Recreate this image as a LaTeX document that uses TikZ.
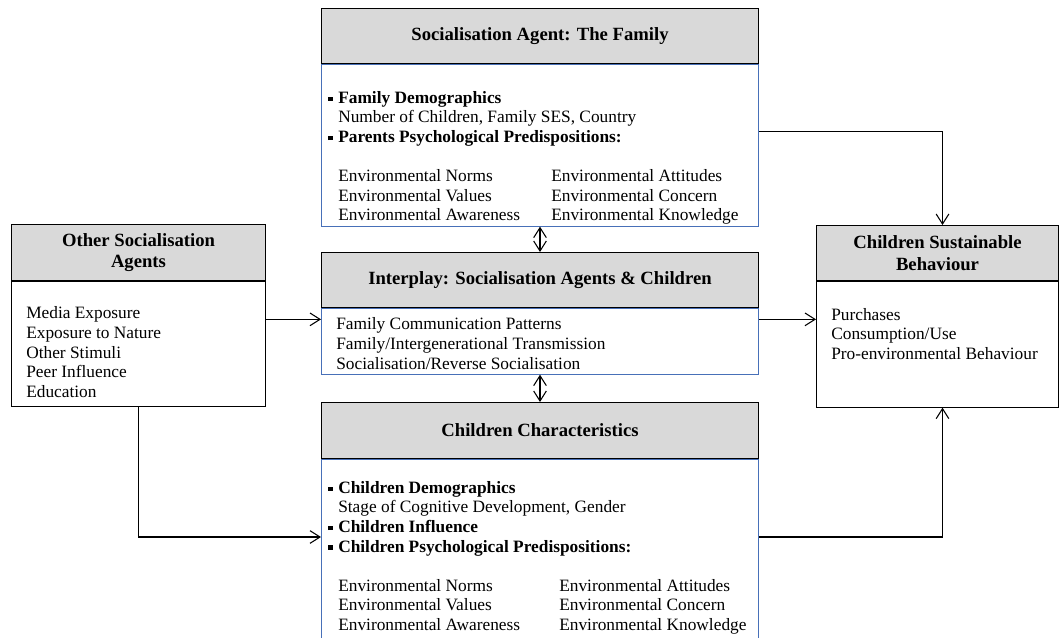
\documentclass[tikz,border=0pt]{standalone}
\usepackage{fontspec}
\setmainfont{Liberation Serif}
\usepackage{xcolor}
\usepackage{tikz}
\usetikzlibrary{positioning,calc,arrows.meta}
\definecolor{bodyBlue}{RGB}{72,112,184}
\newcommand{\bul}{\rule[1.8pt]{3.2pt}{3.2pt}\hspace{4.3pt}}
\newcommand{\ind}{\hspace*{7.5pt}}
\tikzset{
  headBox/.style={
    rectangle,
    draw=black,
    fill=gray!30,
    line width=0.75pt,
    font=\fontsize{14}{16}\selectfont\bfseries,
    align=center,
    inner sep=0pt
  },
  bodyBox/.style={
    rectangle,
    draw=bodyBlue,
    fill=white,
    line width=0.75pt,
    inner sep=0pt
  },
  listText/.style={
    align=left,
    inner sep=0pt,
    anchor=north west
  },
  arrowLine/.style={
    -{Straight Barb[length=7.5pt,width=9.5pt]},
    line width=0.8pt
  },
  twoWay/.style={
    {Straight Barb[length=7.5pt,width=9.5pt]}-{Straight Barb[length=7.5pt,width=9.5pt]},
    line width=0.8pt
  }
}

\begin{document}
\begin{tikzpicture}[x=0.75pt,y=-0.75pt,font=\fontsize{13}{14.7}\selectfont]
        \useasboundingbox (0,0) rectangle (1059,637);

        % family
        \node[headBox, anchor=north west, minimum width=327.75pt, minimum height=41.5pt] (famHead) at (321,8) {Socialisation Agent: The Family};
        \node[bodyBox, below=0pt of famHead, minimum width=327.75pt, minimum height=121pt] (famBody) {};
        \node[listText, below right=20pt and 5.25pt of famBody.north west] (famText) {%
          \bul\textbf{Family Demographics}\\
          \ind Number of Children, Family SES, Country\\
          \bul\textbf{Parents Psychological Predispositions:}\\[14.7pt]
          \ind\makebox[159.75pt][l]{Environmental Norms}Environmental Attitudes\\
          \ind\makebox[159.75pt][l]{Environmental Values}Environmental Concern\\
          \ind\makebox[159.75pt][l]{Environmental Awareness}Environmental Knowledge};

        % interplay
        \node[headBox, below=19pt of famBody, minimum width=327.75pt, minimum height=41.5pt] (midHead) {Interplay: Socialisation Agents \& Children};
        \node[bodyBox, below=0pt of midHead, minimum width=327.75pt, minimum height=49pt] (midBody) {};
        \node[listText, below right=7pt and 11.25pt of midBody.north west] (midText) {%
          Family Communication Patterns\\
          Family/Intergenerational Transmission\\
          Socialisation/Reverse Socialisation};

        % children
        \node[headBox, below=20.5pt of midBody, minimum width=327.75pt, minimum height=42pt] (kidHead) {Children Characteristics};
        \node[bodyBox, below=0pt of kidHead, minimum width=327.75pt, minimum height=138pt] (kidBody) {};
        \node[listText, below right=16.5pt and 5.25pt of kidBody.north west] (kidText) {%
          \bul\textbf{Children Demographics}\\
          \ind Stage of Cognitive Development, Gender\\
          \bul\textbf{Children Influence}\\
          \bul\textbf{Children Psychological Predispositions:}\\[14.7pt]
          \ind\makebox[165.75pt][l]{Environmental Norms}Environmental Attitudes\\
          \ind\makebox[165.75pt][l]{Environmental Values}Environmental Concern\\
          \ind\makebox[165.75pt][l]{Environmental Awareness}Environmental Knowledge};

        % other agents
        \node[headBox, anchor=north west, minimum width=190.5pt, minimum height=42.25pt] (othHead) at (11,224) {Other Socialisation\\Agents};
        \node[bodyBox, draw=black, below=0pt of othHead, minimum width=190.5pt, minimum height=93.25pt] (othBody) {};
        \node[listText, below right=19pt and 11.25pt of othBody.north west] (othText) {%
          Media Exposure\\
          Exposure to Nature\\
          Other Stimuli\\
          Peer Influence\\
          Education};

        % behaviour
        \node[headBox, anchor=north west, minimum width=181.5pt, minimum height=41.5pt] (behHead) at (816,225) {Children Sustainable\\Behaviour};
        \node[bodyBox, draw=black, below=0pt of behHead, minimum width=181.5pt, minimum height=94pt] (behBody) {};
        \node[listText, below right=20pt and 11.25pt of behBody.north west] (behText) {%
          Purchases\\
          Consumption/Use\\
          Pro-environmental Behaviour};

        % links
        \coordinate (famOut) at ($(famBody.north east)+(0,67)$);
        \coordinate (midIn) at ($(midBody.north west)+(0,11)$);
        \coordinate (kidIn) at ($(kidBody.north west)+(0,78)$);
        \coordinate (behTop) at ($(behHead.north)+(5,0)$);
        \coordinate (behBot) at ($(behBody.south)+(5,0)$);

        \draw[arrowLine] (famOut) -| (behTop);
        \draw[arrowLine] (othBody.east |- midIn) -- (midIn);
        \draw[arrowLine] (midBody.east |- midIn) -- (behBody.west |- midIn);
        \draw[arrowLine] (othBody.south) |- (kidIn);
        \draw[arrowLine] (kidBody.east |- kidIn) -| (behBot);
        \draw[twoWay] (famBody.south) -- (midHead.north);
        \draw[twoWay] (midBody.south) -- (kidHead.north);

    \end{tikzpicture}
\end{document}
